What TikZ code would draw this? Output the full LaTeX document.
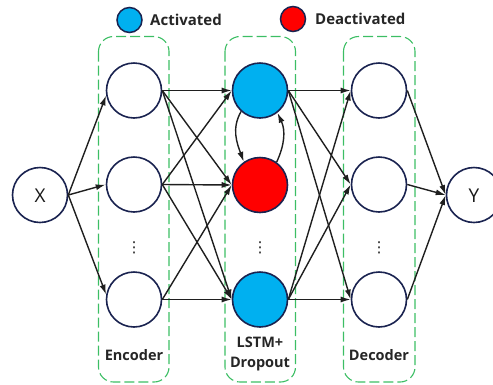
\documentclass[tikz,border=0pt]{standalone}
\usepackage{fontspec}
\setmainfont{Open Sans}
\newfontfamily\symfont{DejaVu Sans}
\usetikzlibrary{arrows.meta}
\definecolor{navy}{RGB}{26,35,80}
\definecolor{actblue}{RGB}{0,176,240}
\definecolor{dred}{RGB}{255,0,0}
\definecolor{dgreen}{RGB}{60,190,100}
\begin{document}
\begin{tikzpicture}[x=1pt,y=-1pt,
 neuron/.style={circle,draw=navy,line width=1.6pt,minimum size=55pt,inner sep=0pt,fill=white},
 legdot/.style={circle,draw=navy,line width=1.5pt,minimum size=25pt,inner sep=0pt},
 arr/.style={-{Latex[length=10pt,width=6pt]},line width=1.4pt,draw=black!88},
 group/.style={draw=dgreen,line width=1.1pt,dash pattern=on 10pt off 4pt,rounded corners=15pt},
 lbl/.style={font=\bfseries\fontsize{14.5}{16}\selectfont,text=black!85,align=center},
 leg/.style={font=\bfseries\fontsize{15}{17}\selectfont,text=black!85,anchor=west,inner sep=0pt},
 io/.style={font=\fontsize{19}{21}\selectfont,text=black!90},
 dots/.style={font=\symfont\fontsize{15}{16}\selectfont,text=black!90,inner sep=0pt}
 ]
\path[use as bounding box,clip] (0,0) rectangle (493,384);

% dashed groups
\draw[group] (98.5,36.5) rectangle (169,382);
\draw[group] (225,36.5) rectangle (295.5,382);
\draw[group] (343.5,36.5) rectangle (415,382);

% legend
\node[legdot,fill=actblue] (la) at (129.5,20) {};
\node[leg] (lat) at (150,20) {Activated};
\node[legdot,fill=dred] (ld) at (293,19) {};
\node[leg] (ldt) at (315,19) {Deactivated};

% neurons
\node[neuron] (X) at (40,195) {};
\node[io] (Xt) at (40,196) {X};
\node[neuron] (E1) at (134,90.5) {};
\node[neuron] (E2) at (134,184.5) {};
\node[neuron] (E3) at (134,299.5) {};
\node[neuron,fill=actblue] (M1) at (260,90.5) {};
\node[neuron,fill=dred] (M2) at (260,185) {};
\node[neuron,fill=actblue] (M3) at (260,299.5) {};
\node[neuron] (D1) at (379,90.5) {};
\node[neuron] (D2) at (379,184.5) {};
\node[neuron] (D3) at (379,299.5) {};
\node[neuron] (Y) at (474,195) {};
\node[io] (Yt) at (474,196) {Y};

% ellipses
\node[dots] (ve) at (134,248) {⋮};
\node[dots] (vm) at (260,248) {⋮};
\node[dots] (vd) at (379,248) {⋮};

% labels
\node[lbl] (le) at (134,355.5) {Encoder};
\node[lbl,font=\bfseries\fontsize{14.5}{19.5}\selectfont] (lm) at (260,354) {LSTM+\\Dropout};
\node[lbl] (lde) at (379,355.5) {Decoder};

% X to encoder
\draw[arr] (X.east) -- (E1.190);
\draw[arr] (X.east) -- (E2.west);
\draw[arr] (X.east) -- (E3.170);

% encoder to middle
\draw[arr] (E1.east) -- (M1.west);
\draw[arr] (E1.east) -- (M2.west);
\draw[arr] (E1.east) -- (M3.west);
\draw[arr] (E2.east) -- (M1.west);
\draw[arr] (E2.east) -- (M2.west);
\draw[arr] (E2.east) -- (M3.west);
\draw[arr] (E3.east) -- (M2.west);
\draw[arr] (E3.east) -- (M3.west);

% loops
\draw[arr] (M1.228) to[out=240,in=110] (M2.125);
\draw[arr] (M2.54) to[out=65,in=-65] (M1.308);

% middle to decoder
\draw[arr] (M1.east) -- (D1.west);
\draw[arr] (M1.east) -- (D2.west);
\draw[arr] (M1.east) -- (D3.west);
\draw[arr] (M3.east) -- (D1.west);
\draw[arr] (M3.east) -- (D2.west);
\draw[arr] (M3.east) -- (D3.west);

% decoder to Y
\draw[arr] (D1.east) -- (Y.west);
\draw[arr] (D2.east) -- (Y.west);
\draw[arr] (D3.east) -- (Y.west);
\end{tikzpicture}
\end{document}
